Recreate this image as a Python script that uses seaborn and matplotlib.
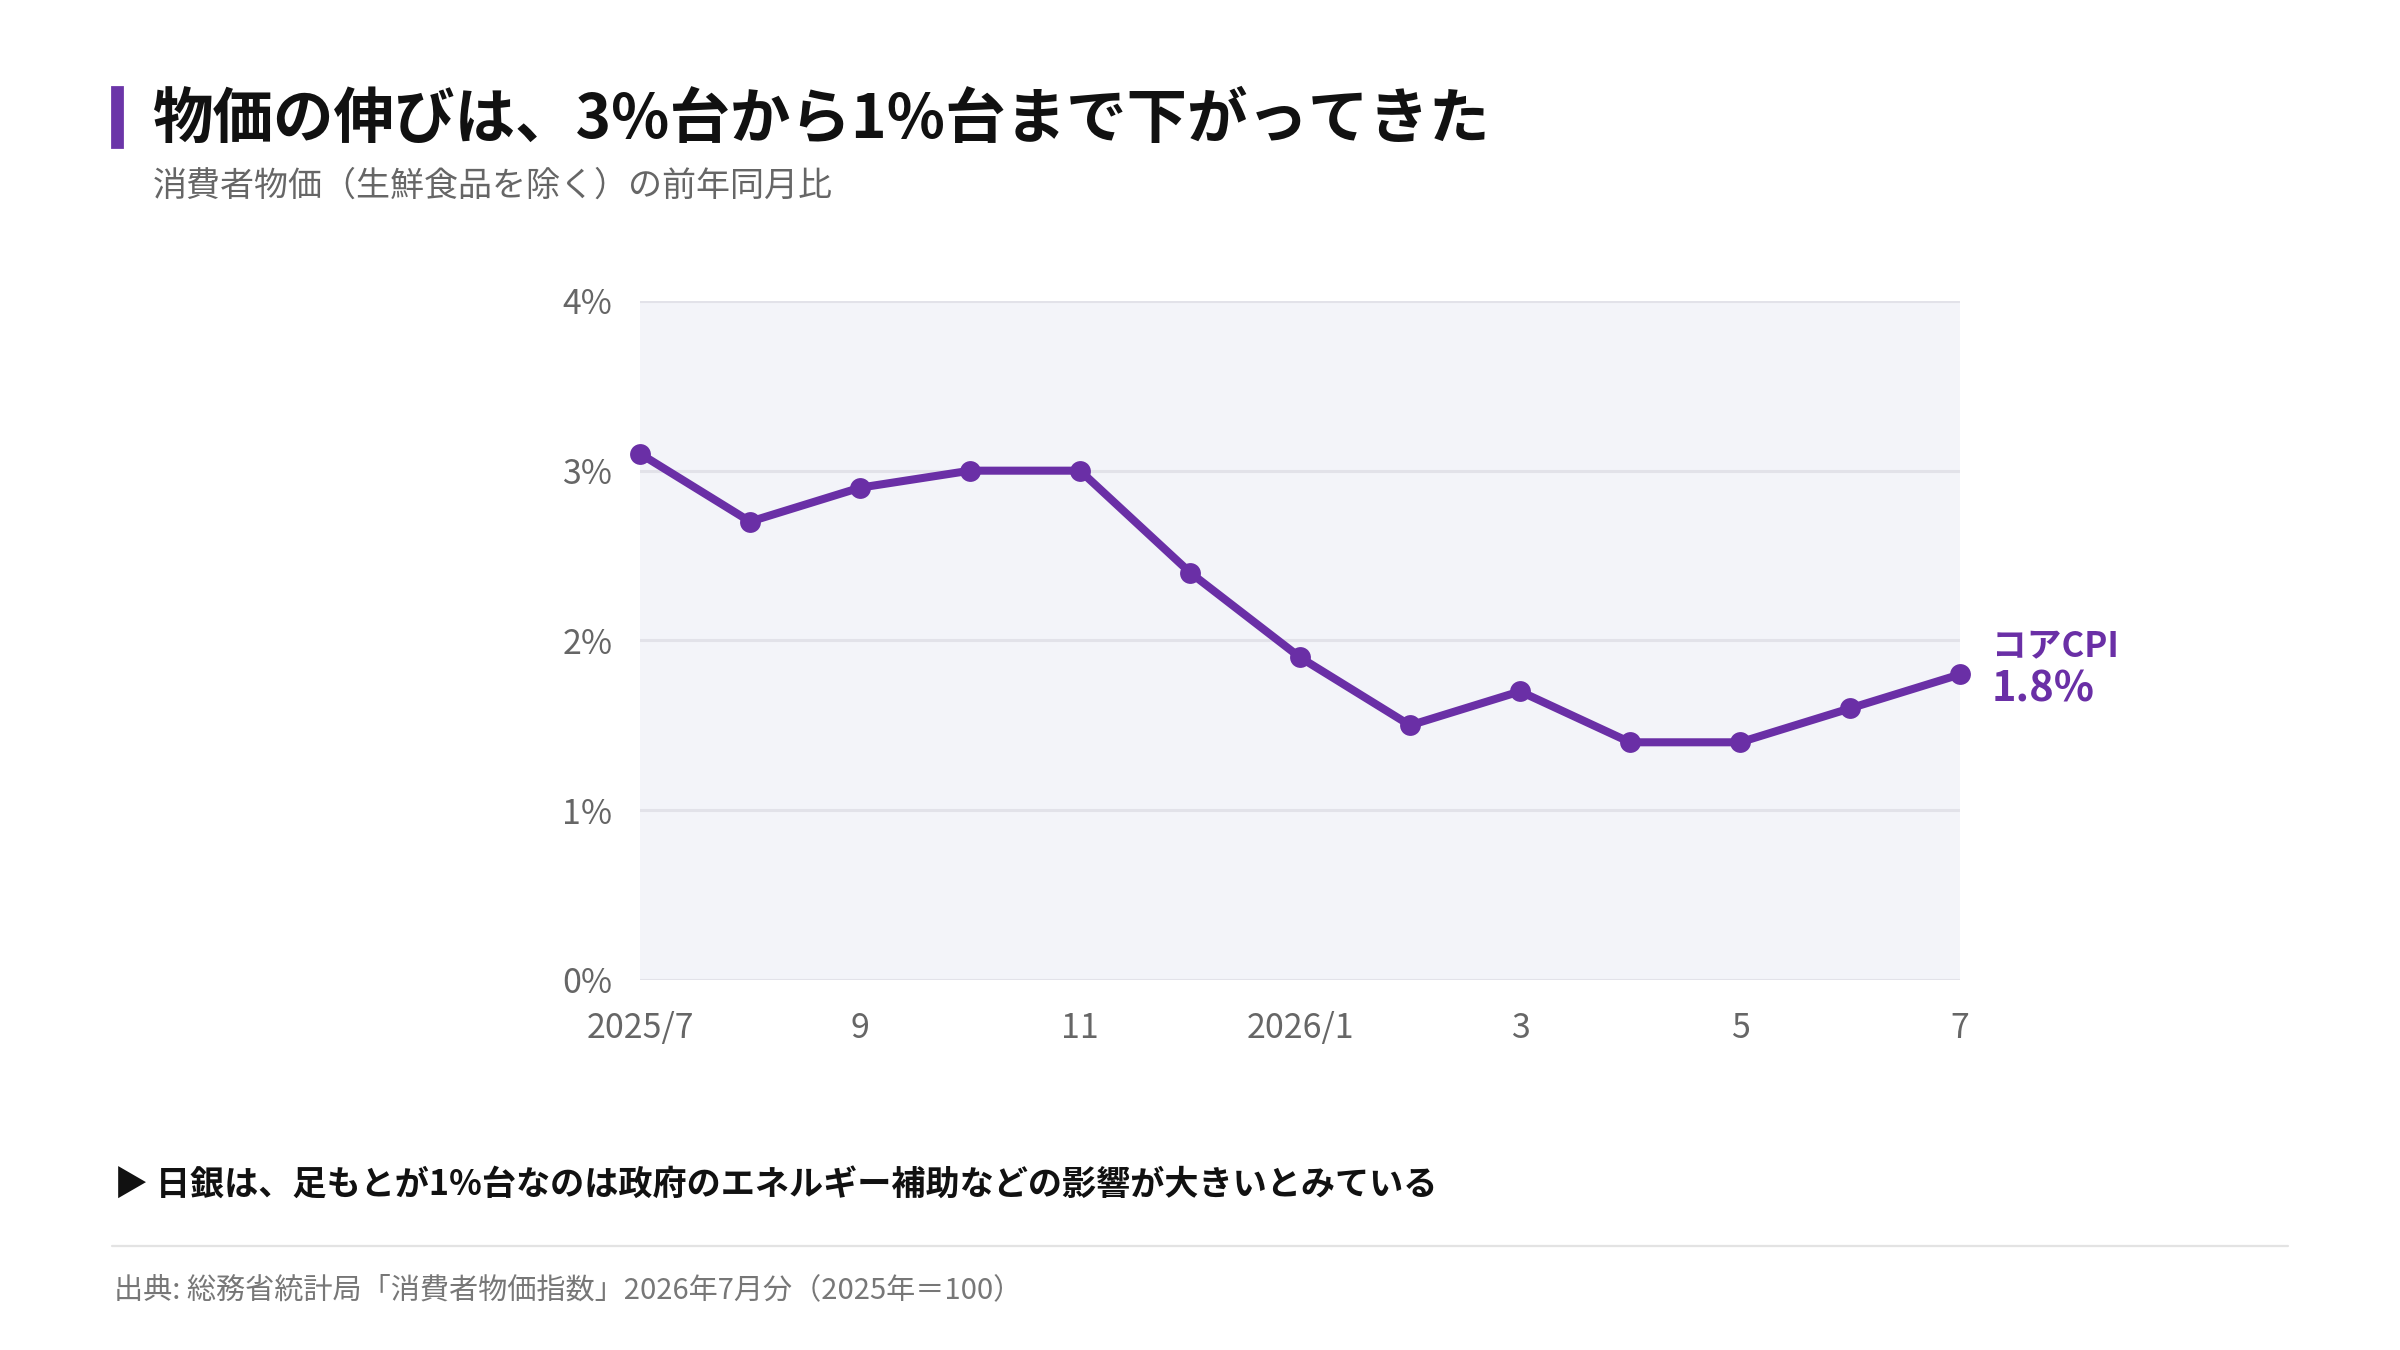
import matplotlib
matplotlib.use("Agg")
import matplotlib.pyplot as plt
import matplotlib.patches as mpatches
import matplotlib.lines as mlines
import seaborn as sns
import pandas as pd

# ---- data ----
months = ["2025/7", "8", "9", "10", "11", "12", "2026/1", "2", "3", "4", "5", "6", "7"]
core_cpi = [3.1, 2.7, 2.9, 3.0, 3.0, 2.4, 1.9, 1.5, 1.7, 1.4, 1.4, 1.6, 1.8]
y_ticks = [0, 1, 2, 3, 4]
x_tick_idx = [0, 2, 4, 6, 8, 10, 12]

title = "物価の伸びは、3%台から1%台まで下がってきた"
subtitle = "消費者物価（生鮮食品を除く）の前年同月比"
note = "▶ 日銀は、足もとが1%台なのは政府のエネルギー補助などの影響が大きいとみている"
source = "出典: 総務省統計局「消費者物価指数」2026年7月分（2025年＝100）"
series_name = "コアCPI"

PURPLE = "#6a2fa6"
GRAY = "#666666"

sns.set_theme(style="white")
plt.rcParams["font.family"] = ["Noto Sans CJK JP", "DejaVu Sans"]

df = pd.DataFrame({"idx": range(len(months)), "month": months, "value": core_cpi})

fig = plt.figure(figsize=(12, 6.75), dpi=200)
ax = fig.add_axes([0.2667, 0.2741, 0.55, 0.5030])
ax.set_facecolor("#f3f4f9")

sns.lineplot(data=df, x="idx", y="value", ax=ax, color=PURPLE, linewidth=2.9,
             marker="o", markersize=7.5, markeredgewidth=0, clip_on=False, zorder=5)

ax.set_xlim(0, len(months) - 1)
ax.set_ylim(0, 4)
ax.set_yticks(y_ticks)
ax.set_yticklabels([f"{t}%" for t in y_ticks])
ax.set_xticks(x_tick_idx)
ax.set_xticklabels([months[i] for i in x_tick_idx])
ax.set_xlabel("")
ax.set_ylabel("")
ax.grid(axis="y", color="#e2e2e9", linewidth=1.1)
ax.grid(axis="x", visible=False)
ax.set_axisbelow(True)
for s in ax.spines.values():
    s.set_visible(False)
ax.tick_params(axis="y", length=0, pad=10, labelsize=12.2, labelcolor=GRAY)
ax.tick_params(axis="x", length=0, pad=11, labelsize=12.2, labelcolor=GRAY)

# end label
last_i = len(months) - 1
last_v = core_cpi[-1]
ax.annotate(series_name, xy=(last_i, last_v), xytext=(11.5, 6), textcoords="offset points",
            ha="left", va="baseline", color=PURPLE, fontsize=12.5, fontweight="semibold",
            annotation_clip=False)
ax.annotate(f"{last_v}%", xy=(last_i, last_v), xytext=(11.5, -9.7), textcoords="offset points",
            ha="left", va="baseline", color=PURPLE, fontsize=15, fontweight="bold",
            annotation_clip=False)

# header
fig.patches.append(mpatches.Rectangle((0.0467, 0.8911), 0.0042, 0.0445,
                                      transform=fig.transFigure, color="#6b35a8"))
fig.text(0.0637, 0.8978, title, fontsize=21.8, fontweight="bold", color="#111111",
         ha="left", va="baseline")
fig.text(0.0637, 0.8548, subtitle, fontsize=12.25, color=GRAY, ha="left", va="baseline")

# footer
fig.text(0.0476, 0.1148, note, fontsize=12.3, fontweight="bold", color="#111111",
         ha="left", va="baseline", family=["Noto Sans CJK JP", "DejaVu Sans"])
fig.lines.append(mlines.Line2D([0.0467, 0.9533], [0.0770, 0.0770], transform=fig.transFigure,
                               color="#e3e3e3", linewidth=0.8))
fig.text(0.0475, 0.0385, source, fontsize=10.5, color="#777777", ha="left", va="baseline")

fig.savefig("out.png", dpi=200, facecolor="white")
